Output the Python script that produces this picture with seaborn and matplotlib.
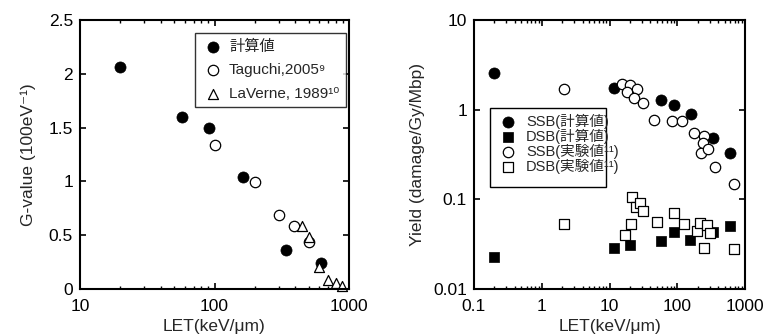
import matplotlib
matplotlib.use("Agg")
import matplotlib.pyplot as plt
import seaborn as sns
import pandas as pd
import numpy as np
from matplotlib.ticker import LogLocator, NullFormatter, NullLocator
from matplotlib.patches import Rectangle

# ---------------- data (left panel: G-value) ----------------
calc_let = [20, 57, 91, 163, 340, 623]
calc_g = [2.06, 1.60, 1.50, 1.04, 0.365, 0.245]
taguchi_let = [101, 200, 302, 392, 500]
taguchi_g = [1.34, 0.99, 0.69, 0.59, 0.44]
laverne_let = [446, 500, 600, 701, 796, 891]
laverne_g = [0.59, 0.48, 0.20, 0.084, 0.06, 0.03]

# ---------------- data (right panel: strand breaks) ----------------
ssb_calc_let = [0.2, 11.6, 57, 89, 157, 337, 600]
ssb_calc_y = [2.55, 1.76, 1.28, 1.12, 0.89, 0.48, 0.33]
dsb_calc_let = [0.2, 11.8, 19.8, 57, 89, 155, 337, 600]
dsb_calc_y = [0.0225, 0.0286, 0.0306, 0.034, 0.043, 0.0355, 0.043, 0.051]
ssb_exp_let = [2.12, 15.2, 20.1, 25.3, 18.4, 23.1, 31.7, 46, 83, 117, 174, 250, 240, 222, 286, 359, 687]
ssb_exp_y = [1.69, 1.92, 1.89, 1.69, 1.59, 1.36, 1.18, 0.77, 0.75, 0.75, 0.55, 0.51, 0.42, 0.33, 0.36, 0.23, 0.15]
dsb_exp_let = [2.1, 17, 20.6, 21.7, 24.4, 28.3, 31.7, 51, 90, 127, 195, 219, 245, 275, 300, 687]
dsb_exp_y = [0.053, 0.040, 0.053, 0.106, 0.082, 0.092, 0.074, 0.056, 0.070, 0.053, 0.044, 0.054, 0.029, 0.052, 0.042, 0.028]

sns.set_style("ticks")
plt.rcParams['font.family'] = ['Liberation Sans', 'Noto Sans CJK JP', 'DejaVu Sans']
plt.rcParams['axes.linewidth'] = 1.5
plt.rcParams['xtick.direction'] = 'in'
plt.rcParams['ytick.direction'] = 'in'

TFS = 12.5   # tick labels
LFS = 12.5   # axis labels
GFS = 11     # legend

fig = plt.figure(figsize=(7.64, 3.35), dpi=100)
W, H = 764, 335
ax1 = fig.add_axes([80 / W, (H - 289) / H, 269 / W, 269 / H])
ax2 = fig.add_axes([474 / W, (H - 289) / H, 271 / W, 269 / H])

lw = 0.9

def scat(ax, x, y, marker, filled, label, size):
    df = pd.DataFrame({"x": x, "y": y})
    sns.scatterplot(data=df, x="x", y="y", ax=ax, marker=marker, s=size,
                    color="black" if filled else "white",
                    edgecolor="black", linewidth=lw if not filled else 0.5,
                    label=label, zorder=3 if filled else 4, clip_on=False)

# left panel
scat(ax1, calc_let, calc_g, "o", True, "計算値", 64)
scat(ax1, taguchi_let, taguchi_g, "o", False, "Taguchi,2005⁹", 56)
scat(ax1, laverne_let, laverne_g, "^", False, "LaVerne, 1989¹⁰", 52)
ax1.set_xscale("log")
ax1.set_xlim(10, 1000)
ax1.set_ylim(0, 2.5)
ax1.set_yticks([0, 0.5, 1, 1.5, 2, 2.5])
ax1.set_yticklabels(["0", "0.5", "1", "1.5", "2", "2.5"])
ax1.set_xticks([10, 100, 1000])
ax1.set_xticklabels(["10", "100", "1000"])
ax1.xaxis.set_minor_locator(LogLocator(base=10, subs=np.arange(2, 10)))
ax1.xaxis.set_minor_formatter(NullFormatter())
ax1.set_xlabel("LET(keV/μm)", fontsize=LFS, labelpad=4)
ax1.set_ylabel("G-value (100eV⁻¹)", fontsize=LFS, labelpad=9)
leg1 = ax1.legend(loc="upper left", bbox_to_anchor=(0.426, 0.951), frameon=True,
                  fancybox=False, edgecolor="black", fontsize=GFS, labelspacing=0.6,
                  handletextpad=0.3, borderpad=0.45, handlelength=1.5, borderaxespad=0)
leg1.get_frame().set_linewidth(1.0)

# right panel
scat(ax2, ssb_calc_let, ssb_calc_y, "o", True, "SSB(計算値)", 64)
scat(ax2, dsb_calc_let, dsb_calc_y, "s", True, "DSB(計算値)", 58)
scat(ax2, ssb_exp_let, ssb_exp_y, "o", False, "SSB(実験値¹¹)", 56)
scat(ax2, dsb_exp_let, dsb_exp_y, "s", False, "DSB(実験値¹¹)", 52)
ax2.set_xscale("log")
ax2.set_yscale("log")
ax2.set_xlim(0.1, 1000)
ax2.set_ylim(0.01, 10)
ax2.set_xticks([0.1, 1, 10, 100, 1000])
ax2.set_xticklabels(["0.1", "1", "10", "100", "1000"])
ax2.set_yticks([0.01, 0.1, 1, 10])
ax2.set_yticklabels(["0.01", "0.1", "1", "10"])
ax2.xaxis.set_minor_locator(LogLocator(base=10, subs=np.arange(2, 10)))
ax2.xaxis.set_minor_formatter(NullFormatter())
ax2.yaxis.set_minor_locator(NullLocator())
ax2.set_xlabel("LET(keV/μm)", fontsize=LFS, labelpad=4)
ax2.set_ylabel("Yield (damage/Gy/Mbp)", fontsize=LFS, labelpad=6)
leg2 = ax2.legend(loc="upper left", bbox_to_anchor=(0.068, 0.668), frameon=False,
                  fontsize=GFS - 0.5, labelspacing=0.0,
                  handletextpad=0.5, borderpad=0.3, handlelength=1.5, borderaxespad=0)
leg2.set_zorder(6)
# legend frame drawn as its own box (text runs slightly past it, as in the original)
ax2.add_patch(Rectangle((0.059, 0.380), 0.428, 0.292, transform=ax2.transAxes,
                        facecolor="white", edgecolor="black", linewidth=1.0, zorder=5))

for ax in (ax1, ax2):
    ax.tick_params(which="both", top=True, right=True, direction="in",
                   labelsize=TFS, colors="black")
    ax.tick_params(which="major", length=4, width=1.2)
    ax.tick_params(which="minor", length=2, width=1.0)
    ax.tick_params(axis="x", which="both", pad=7)
    ax.tick_params(axis="y", which="both", pad=5)
    for sp in ax.spines.values():
        sp.set_visible(True)
        sp.set_color("black")
        sp.set_zorder(7)

fig.savefig("out.png", dpi=100)
